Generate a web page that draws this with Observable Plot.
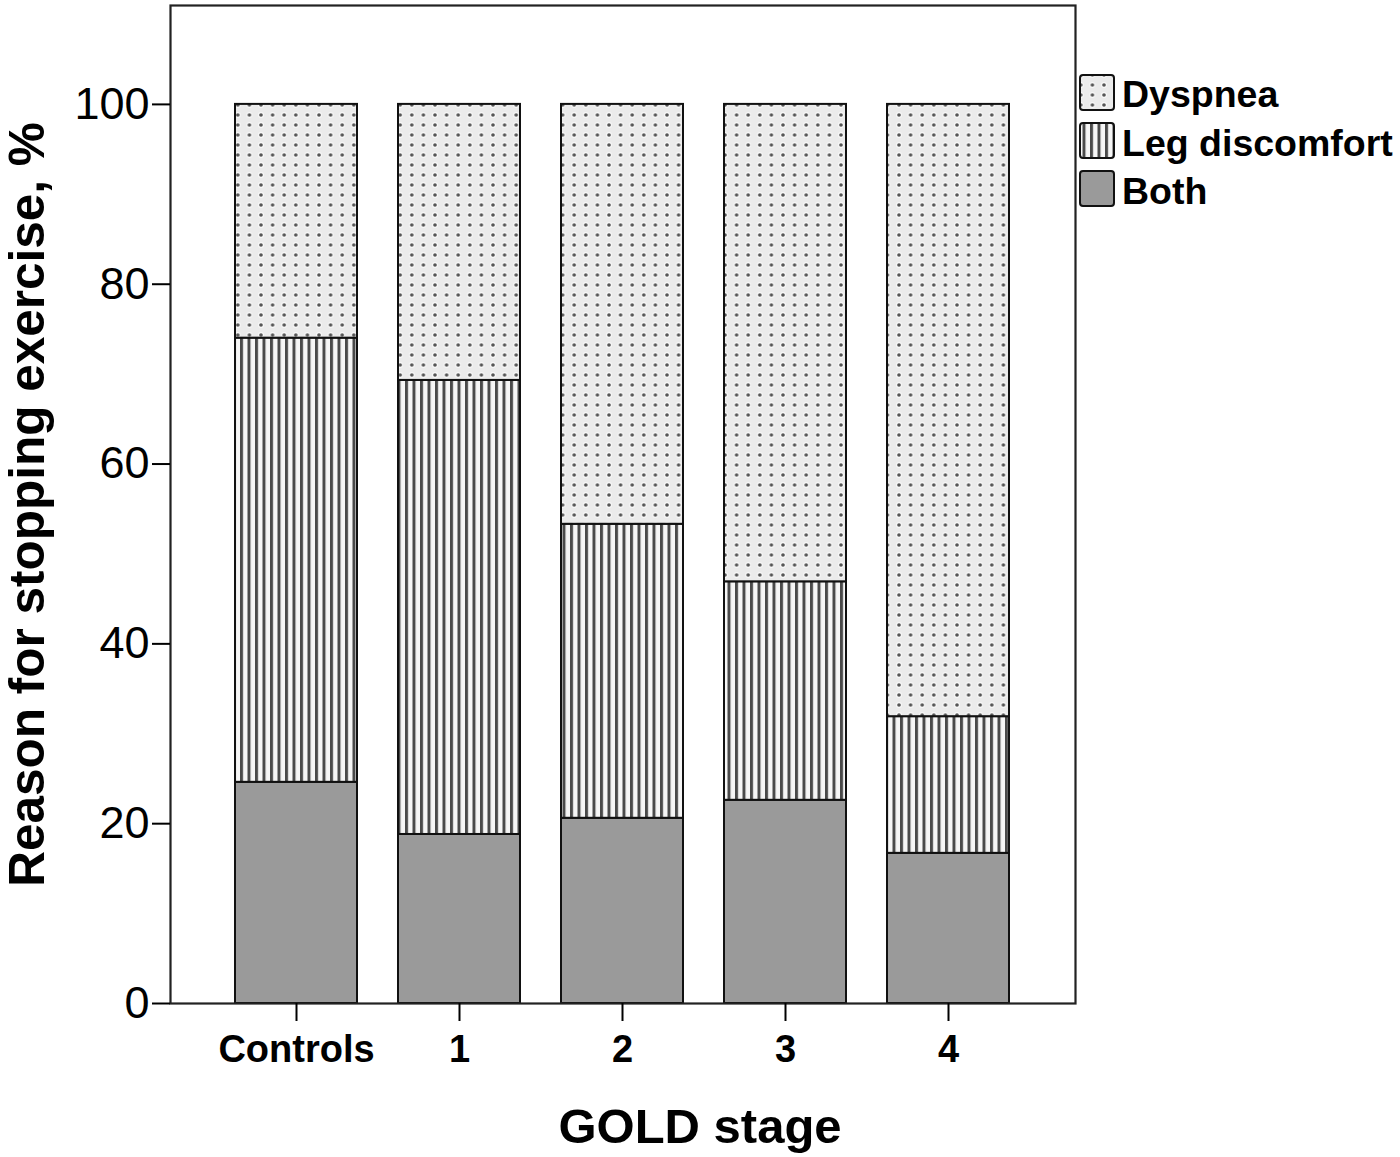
<!DOCTYPE html>
<html>
<head>
<meta charset="utf-8">
<script src="https://cdn.jsdelivr.net/npm/d3@7"></script>
<script src="https://cdn.jsdelivr.net/npm/@observablehq/plot@0.6"></script>
<style>
  html, body { margin: 0; padding: 0; background: white; }
  #wrap { position: relative; width: 1400px; height: 1157px; font-family: "Liberation Sans", Arial, sans-serif; }
  #legend { position: absolute; left: 1075px; top: 70px; }
</style>
</head>
<body>
<div id="wrap"></div>
<script>
// ---- data ----
const stages = ["Controls", "1", "2", "3", "4"];
const reasons = ["Dyspnea", "Leg discomfort", "Both"];
const both = [24.6, 18.8, 20.6, 22.6, 16.7];
const legDiscomfort = [49.4, 50.5, 32.7, 24.3, 15.2];
const dyspnea = [26.0, 30.7, 46.7, 53.1, 68.1];
const yTicks = [0, 20, 40, 60, 80, 100];
const xTitle = "GOLD stage";
const yTitle = "Reason for stopping exercise, %";

const fills = {"Dyspnea": "url(#pat-dots)", "Leg discomfort": "url(#pat-lines)", "Both": "#9a9a9a"};
const seriesByReason = {"Both": both, "Leg discomfort": legDiscomfort, "Dyspnea": dyspnea};
const stackOrder = ["Both", "Leg discomfort", "Dyspnea"];

const rows = [];
for (const r of stackOrder) {
  stages.forEach((s, i) => rows.push({stage: s, reason: r, value: seriesByReason[r][i]}));
}

const font = "'Liberation Sans', Arial, sans-serif";

const chart = Plot.plot({
  width: 1400,
  height: 1157,
  marginLeft: 170,
  marginRight: 325,
  marginTop: 5,
  marginBottom: 154,
  style: {fontFamily: font, background: "white", color: "black"},
  x: {domain: stages, paddingInner: 0.25, paddingOuter: 0.4, label: null},
  y: {domain: [0, 111], label: null},
  color: {type: "identity"},
  marks: [
    Plot.barY(rows, {
      x: "stage", y: "value", z: "reason", order: stackOrder,
      fill: d => fills[d.reason], stroke: "#111", strokeWidth: 2
    }),
    Plot.frame({stroke: "#222", strokeWidth: 2.2}),
    Plot.axisY({ticks: yTicks, tickSize: 18, tickPadding: 3, fontSize: 45, strokeWidth: 2, label: null, tickFormat: d => String(d)}),
    Plot.axisX({tickSize: 18, tickPadding: 14, fontSize: 38, fontWeight: "bold", strokeWidth: 2, label: null}),
    Plot.text([yTitle], {frameAnchor: "left", dx: -142, rotate: -90, textAnchor: "middle", lineAnchor: "middle", text: d => d, fontSize: 49.5, fontWeight: "bold", fill: "black"}),
    Plot.text([xTitle], {frameAnchor: "bottom", dx: 77, dy: 139, textAnchor: "middle", text: d => d, fontSize: 49, fontWeight: "bold", fill: "black"})
  ]
});

// patterns
const defs = d3.select(chart).insert("defs", ":first-child");
const pd = defs.append("pattern").attr("id", "pat-dots").attr("patternUnits", "userSpaceOnUse")
  .attr("width", 11.6).attr("height", 10);
pd.append("rect").attr("width", 11.6).attr("height", 10).attr("fill", "#ebebeb");
pd.append("circle").attr("cx", 5.8).attr("cy", 5).attr("r", 3).attr("fill", "#f8f8f8");
pd.append("circle").attr("cx", 5.8).attr("cy", 5).attr("r", 1.8).attr("fill", "#555");
const pl = defs.append("pattern").attr("id", "pat-lines").attr("patternUnits", "userSpaceOnUse")
  .attr("width", 7.5).attr("height", 10);
pl.append("rect").attr("width", 7.5).attr("height", 10).attr("fill", "#f6f6f6");
pl.append("rect").attr("x", 0).attr("width", 3).attr("height", 10).attr("fill", "#4a4a4a");

const wrap = document.getElementById("wrap");
wrap.appendChild(chart);

// legend
const leg = d3.select(wrap).append("svg").attr("id", "legend")
  .attr("width", 325).attr("height", 150)
  .style("font-family", font);
const baselines = [37, 86, 134];
reasons.forEach((r, i) => {
  const top = 5 + i * 48;
  leg.append("rect").attr("x", 5).attr("y", top).attr("width", 34).attr("height", 35)
    .attr("rx", 3).attr("fill", fills[r]).attr("stroke", "#111").attr("stroke-width", 2);
  leg.append("text").attr("x", 47).attr("y", baselines[i]).attr("font-size", 37.5)
    .attr("font-weight", "bold").attr("fill", "black").text(r);
});
</script>
</body>
</html>
